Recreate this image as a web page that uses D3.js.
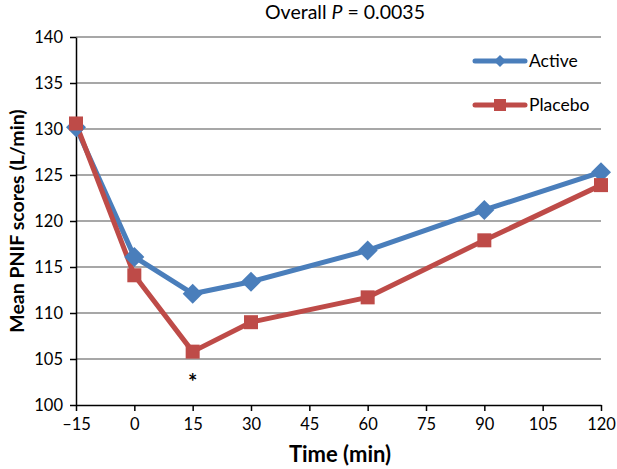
<!DOCTYPE html>
<html><head><meta charset="utf-8">
<script src="https://cdn.jsdelivr.net/npm/d3@7"></script>
<style>body{margin:0;background:#fff}svg{display:block}text{font-family:Lato,"Open Sans",sans-serif}</style>
</head><body><svg id="c" width="617" height="469"></svg>
<script>
const times = [-15, 0, 15, 30, 60, 90, 120];
const active = [130.2, 116.1, 112.1, 113.4, 116.8, 121.2, 125.3];
const placebo = [130.6, 114.1, 105.8, 109.0, 111.7, 117.9, 123.9];
const xTicks = [-15, 0, 15, 30, 45, 60, 75, 90, 105, 120];
const yTicks = [100, 105, 110, 115, 120, 125, 130, 135, 140];
const seriesNames = ["Active", "Placebo"];
const colors = ["#4A7EBB", "#BE4B48"];

const svg = d3.select("#c");
const L = 76, R = 601, T = 37, B = 405;
const x = d3.scaleLinear().domain([-15, 120]).range([L, R]);
const y = d3.scaleLinear().domain([100, 140]).range([B, T]);

// gridlines
svg.append("g").selectAll("line").data(yTicks.filter(d => d > 100)).join("line")
  .attr("x1", L).attr("x2", R).attr("y1", d => y(d)).attr("y2", d => y(d))
  .attr("stroke", "#8a8a8a").attr("stroke-width", 1.5);

// axes
const fmt = d => d < 0 ? "\u2013" + Math.abs(d) : String(d);
const xa = svg.append("g").attr("transform", `translate(0,${B})`)
  .call(d3.axisBottom(x).tickValues(xTicks).tickFormat(fmt).tickSize(6).tickSizeOuter(0));
const ya = svg.append("g").attr("transform", `translate(${L},0)`)
  .call(d3.axisLeft(y).tickValues(yTicks).tickSize(6).tickSizeOuter(0));
[xa, ya].forEach(a => {
  a.select(".domain").attr("stroke", "#000").attr("stroke-width", 1.5);
  a.selectAll(".tick line").attr("stroke", "#000").attr("stroke-width", 1.5);
  a.selectAll("text").attr("font-size", 16.5).attr("fill", "#000").attr("font-family", "Lato, sans-serif");
});
xa.selectAll("text").attr("dy", "0.95em");
ya.selectAll("text").attr("x", -13);

// lines
const data = [active, placebo];
const line = d3.line().x((d, i) => x(times[i])).y(d => y(d));
data.forEach((s, k) => {
  svg.append("path").datum(s).attr("d", line).attr("fill", "none")
    .attr("stroke", colors[k]).attr("stroke-width", 5).attr("stroke-linejoin", "round");
});
// markers
svg.append("g").selectAll("path").data(active).join("path")
  .attr("transform", (d, i) => `translate(${x(times[i])},${y(d)})`)
  .attr("d", "M0,-10L10,0L0,10L-10,0Z").attr("fill", colors[0]);
svg.append("g").selectAll("rect").data(placebo).join("rect")
  .attr("x", (d, i) => x(times[i]) - 7).attr("y", d => y(d) - 7)
  .attr("width", 14).attr("height", 14).attr("fill", colors[1]);

// asterisk
svg.append("text").attr("x", x(15)).attr("y", y(placebo[2]) + 38)
  .attr("text-anchor", "middle").attr("font-size", 22).attr("font-weight", "bold").text("*");

// legend
const ly = [61, 105];
seriesNames.forEach((n, k) => {
  const g = svg.append("g");
  g.append("line").attr("x1", 475).attr("x2", 525).attr("y1", ly[k]).attr("y2", ly[k])
    .attr("stroke", colors[k]).attr("stroke-width", 5).attr("stroke-linecap", "round");
  if (k === 0) g.append("path").attr("transform", `translate(500,${ly[k]})`).attr("d", "M0,-6L6,0L0,6L-6,0Z").attr("fill", colors[0]);
  else g.append("rect").attr("x", 494).attr("y", ly[k] - 6).attr("width", 12).attr("height", 12).attr("fill", colors[1]);
  g.append("text").attr("x", 529).attr("y", ly[k] + 6).attr("font-size", 17.5).text(n);
});

// title
const t = svg.append("text").attr("x", 345).attr("y", 19).attr("text-anchor", "middle").attr("font-size", 19.5);
t.append("tspan").text("Overall ");
t.append("tspan").attr("font-style", "italic").text("P");
t.append("tspan").text(" = 0.0035");

// axis titles
svg.append("text").attr("x", 340).attr("y", 462).attr("text-anchor", "middle")
  .attr("font-size", 22).attr("font-weight", "bold").text("Time (min)");
svg.append("text").attr("transform", `translate(24,${(T + B) / 2}) rotate(-90)`).attr("text-anchor", "middle")
  .attr("font-size", 19.5).attr("font-weight", "bold").text("Mean PNIF scores (L/min)");
</script></body></html>
